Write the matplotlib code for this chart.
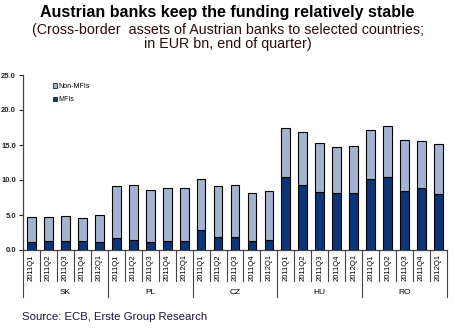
import matplotlib
matplotlib.use("Agg")
import matplotlib.pyplot as plt
import matplotlib.transforms as mtransforms
from matplotlib.patches import Patch

plt.rcParams['font.family'] = ['Liberation Sans', 'DejaVu Sans']

countries = ["SK", "PL", "CZ", "HU", "RO"]
quarters = ["2011Q1", "2011Q2", "2011Q3", "2011Q4", "2012Q1"]

# Totals (MFIs + Non-MFIs) and MFI part, EUR bn
totals = {
    "SK": [4.7, 4.7, 4.8, 4.6, 5.0],
    "PL": [9.2, 9.3, 8.6, 8.8, 8.9],
    "CZ": [10.1, 9.1, 9.3, 8.2, 8.4],
    "HU": [17.4, 16.9, 15.3, 14.7, 14.9],
    "RO": [17.2, 17.7, 15.7, 15.6, 15.1],
}
mfis = {
    "SK": [1.2, 1.3, 1.3, 1.25, 1.2],
    "PL": [1.7, 1.4, 1.15, 1.3, 1.3],
    "CZ": [2.9, 1.8, 1.8, 1.3, 1.45],
    "HU": [10.5, 9.35, 8.35, 8.2, 8.2],
    "RO": [10.2, 10.4, 8.5, 8.8, 8.05],
}
yticks = [0, 5, 10, 15, 20, 25]

mfi_vals = [v for c in countries for v in mfis[c]]
non_mfi_vals = [t - m for c in countries for t, m in zip(totals[c], mfis[c])]
labels = [q for c in countries for q in quarters]
x = list(range(len(labels)))

dark = "#0B3577"
light = "#A3B4CF"

fig = plt.figure(figsize=(4.55, 3.28), dpi=100)
ax = fig.add_axes([23 / 455, 1 - 250 / 328, 424 / 455, 175 / 328])

ax.bar(x, mfi_vals, width=0.52, color=dark, edgecolor="black", linewidth=0.8, zorder=3)
ax.bar(x, non_mfi_vals, bottom=mfi_vals, width=0.52, color=light,
       edgecolor="black", linewidth=0.8, zorder=3)

ax.set_xlim(-0.5, len(labels) - 0.5)
ax.set_ylim(0, 25)
ax.set_yticks(yticks)
ax.set_yticklabels([f"{v:.1f}" for v in yticks], fontsize=5.5, fontweight="bold")
ax.tick_params(axis="y", length=3, width=0.8, pad=2, colors="#222222")
ax.set_xticks(x)
ax.set_xticklabels(labels, rotation=90, fontsize=5.5)
ax.tick_params(axis="x", length=0, pad=3)

for s in ["top", "right"]:
    ax.spines[s].set_visible(False)
for s in ["left", "bottom"]:
    ax.spines[s].set_color("#444444")
    ax.spines[s].set_linewidth(0.9)

# Category separators below the axis
trans = mtransforms.blended_transform_factory(ax.transData, ax.transAxes)
n_q = len(quarters)
for i in range(len(labels) + 1):
    xp = i - 0.5
    depth = -47 / 175 if i % n_q == 0 else -31 / 175
    ax.plot([xp, xp], [0, depth], transform=trans, color="#444444",
            linewidth=0.8, clip_on=False)
for gi, c in enumerate(countries):
    ax.text(gi * n_q + (n_q - 1) / 2, -42 / 175, c, transform=trans,
            ha="center", va="center", fontsize=6)

handles = [Patch(facecolor=light, edgecolor="black", linewidth=0.5, label="Non-MFIs"),
           Patch(facecolor=dark, edgecolor="black", linewidth=0.5, label="MFIs")]
ax.legend(handles=handles, loc="upper left", bbox_to_anchor=(0.055, 0.99),
          frameon=False, fontsize=5, handlelength=0.6, handleheight=0.6,
          handletextpad=0.2, labelspacing=0.9)

fig.text(0.5, 1 - 12 / 328, "Austrian banks keep the funding relatively stable",
         ha="center", va="center", fontsize=11.5, fontweight="bold")
fig.text(0.5, 1 - 37 / 328,
         "(Cross-border  assets of Austrian banks to selected countries;\nin EUR bn, end of quarter)",
         ha="center", va="center", fontsize=10.3, color="#2a0c0c", linespacing=1.05)
fig.text(22 / 455, 1 - 317 / 328, "Source: ECB, Erste Group Research",
         ha="left", va="center", fontsize=8.2, color="#1f1240")

fig.savefig("out.png", dpi=100)
